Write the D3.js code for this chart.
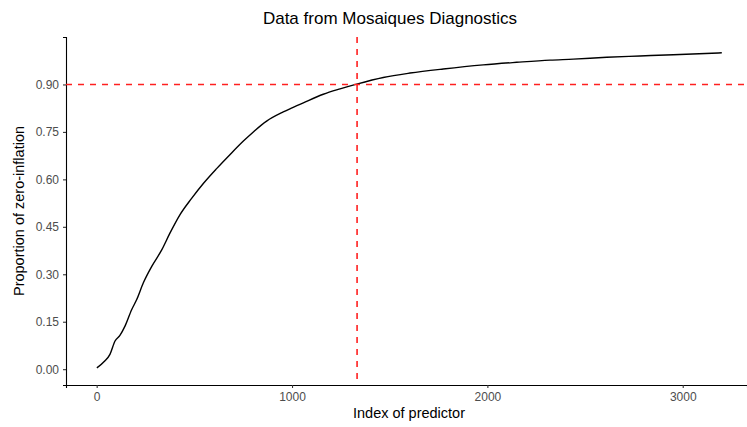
<!DOCTYPE html>
<html>
<head>
<meta charset="utf-8">
<script src="https://cdn.jsdelivr.net/npm/d3@7"></script>
<style>
  body { margin: 0; background: #fff; }
  svg { display: block; font-family: "Liberation Sans", Arial, sans-serif; }
</style>
</head>
<body>
<div id="chart"></div>
<script>
// curve: index of predictor vs proportion of zero-inflation
const predictorIndex = [1, 40, 68, 94, 119, 145, 179, 205, 239, 282, 333, 375, 426, 486, 546, 614, 682, 751, 802, 870, 955, 1000, 1058, 1160, 1246, 1331, 1467, 1604, 1774, 1979, 2150, 2321, 2440, 2611, 2781, 2952, 3200];
const zeroProportion = [0.004, 0.025, 0.047, 0.089, 0.107, 0.136, 0.188, 0.220, 0.273, 0.325, 0.377, 0.430, 0.488, 0.540, 0.587, 0.634, 0.678, 0.721, 0.750, 0.784, 0.813, 0.826, 0.842, 0.869, 0.886, 0.901, 0.922, 0.936, 0.949, 0.962, 0.970, 0.977, 0.980, 0.986, 0.990, 0.994, 1.000];

const xTicks = [0, 1000, 2000, 3000];
const yTicks = [0, 0.15, 0.30, 0.45, 0.60, 0.75, 0.90];

const cutIndex = 1333;
const cutProportion = 0.9;

const width = 747, height = 427;
const margin = { top: 37, right: 0, bottom: 42, left: 66 };

const svg = d3.select("#chart").append("svg")
  .attr("width", width)
  .attr("height", height);

const x = d3.scaleLinear()
  .domain([-157, 3329])
  .range([margin.left, width - margin.right]);

const y = d3.scaleLinear()
  .domain([-0.05, 1.05])
  .range([height - margin.bottom, margin.top]);

const data = predictorIndex.map((d, i) => ({ x: d, y: zeroProportion[i] }));

// axes
const xAxis = svg.append("g")
  .attr("transform", `translate(0,${height - margin.bottom})`)
  .call(d3.axisBottom(x).tickValues(xTicks).tickFormat(d3.format("d")).tickSize(3).tickPadding(4));

const yAxis = svg.append("g")
  .attr("transform", `translate(${margin.left},0)`)
  .call(d3.axisLeft(y).tickValues(yTicks).tickFormat(d3.format(".2f")).tickSize(3).tickPadding(4));

[xAxis, yAxis].forEach(function (a) {
  a.select(".domain").attr("stroke", "#000").attr("stroke-width", 1.1);
  a.selectAll(".tick line").attr("stroke", "#333").attr("stroke-width", 1.1);
  a.selectAll(".tick text")
    .attr("fill", "#4d4d4d")
    .style("font-size", "12px")
    .style("font-family", "'Liberation Sans', Arial, sans-serif");
});

// the curve
svg.append("path")
  .datum(data)
  .attr("fill", "none")
  .attr("stroke", "#000")
  .attr("stroke-width", 1.4)
  .attr("d", d3.line().curve(d3.curveMonotoneX).x(d => x(d.x)).y(d => y(d.y)));

// reference lines
svg.append("line")
  .attr("x1", x(cutIndex)).attr("x2", x(cutIndex))
  .attr("y1", y.range()[1]).attr("y2", y.range()[0])
  .attr("stroke", "#ff2020")
  .attr("stroke-width", 1.6)
  .attr("stroke-dasharray", "6,6");

svg.append("line")
  .attr("x1", x.range()[0]).attr("x2", x.range()[1])
  .attr("y1", y(cutProportion)).attr("y2", y(cutProportion))
  .attr("stroke", "#ff2020")
  .attr("stroke-width", 1.6)
  .attr("stroke-dasharray", "6,6");

// labels
svg.append("text")
  .attr("x", 390)
  .attr("y", 24)
  .attr("text-anchor", "middle")
  .style("font-size", "17px")
  .text("Data from Mosaiques Diagnostics");

svg.append("text")
  .attr("x", (x.range()[0] + 752) / 2)
  .attr("y", 418)
  .attr("text-anchor", "middle")
  .style("font-size", "14.5px")
  .text("Index of predictor");

svg.append("text")
  .attr("transform", `translate(24,${(y.range()[0] + y.range()[1]) / 2}) rotate(-90)`)
  .attr("text-anchor", "middle")
  .style("font-size", "14.5px")
  .text("Proportion of zero-inflation");
</script>
</body>
</html>
